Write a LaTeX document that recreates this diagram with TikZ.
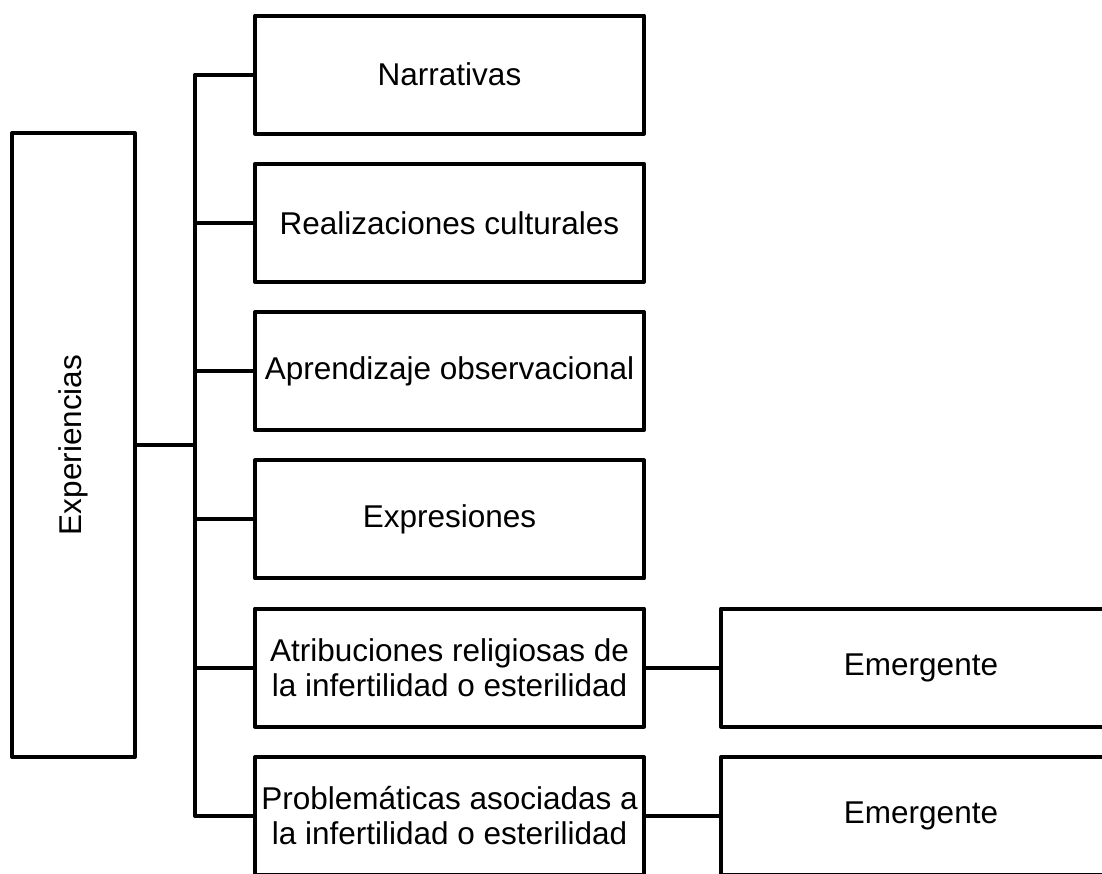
\documentclass[tikz,border=0pt]{standalone}
\usepackage{fontspec}
\setmainfont{Liberation Sans}
\begin{document}
\begin{tikzpicture}[x=1pt,y=-1pt,
  line join=round,
  box/.style={draw=black, line width=4pt, fill=white, inner sep=0pt,
    minimum width=389pt, minimum height=118pt, align=center,
    font=\fontsize{31.5}{35}\selectfont},
  wire/.style={draw=black, line width=4pt}]
\useasboundingbox (0,0) rectangle (1102,873);
\clip (0,0) rectangle (1102,873);
% root box, text set vertically
\node[box, minimum width=123pt, minimum height=624pt] (exp) at (73.5,445) {};
\node[rotate=90, font=\fontsize{31.5}{35}\selectfont] (explabel) at (exp.center) {Experiencias};
% branch boxes
\node[box] (n1) at (449.5,74.5) {Narrativas};
\node[box] (n2) at (449.5,222.8) {Realizaciones culturales};
\node[box] (n3) at (449.5,371.1) {Aprendizaje observacional};
\node[box] (n4) at (449.5,519.4) {Expresiones};
\node[box] (n5) at (449.5,667.5) {Atribuciones religiosas de\\la infertilidad o esterilidad};
\node[box] (n6) at (449.5,816) {Problemáticas asociadas a\\la infertilidad o esterilidad};
% emergent categories
\node[box, minimum width=400pt] (e5) at (921,667.5) {Emergente};
\node[box, minimum width=400pt] (e6) at (921,816) {Emergente};
% connectors
\coordinate (spx) at (195,0);
\draw[wire] (n1.west) -- (n1.west -| spx) -- (n6.west -| spx) -- (n6.west);
\draw[wire] (exp.east) -- (exp.east -| spx);
\draw[wire] (n2.west) -- (n2.west -| spx);
\draw[wire] (n3.west) -- (n3.west -| spx);
\draw[wire] (n4.west) -- (n4.west -| spx);
\draw[wire] (n5.west) -- (n5.west -| spx);
\draw[wire] (n5.east) -- (e5.west);
\draw[wire] (n6.east) -- (e6.west);
\end{tikzpicture}
\end{document}
